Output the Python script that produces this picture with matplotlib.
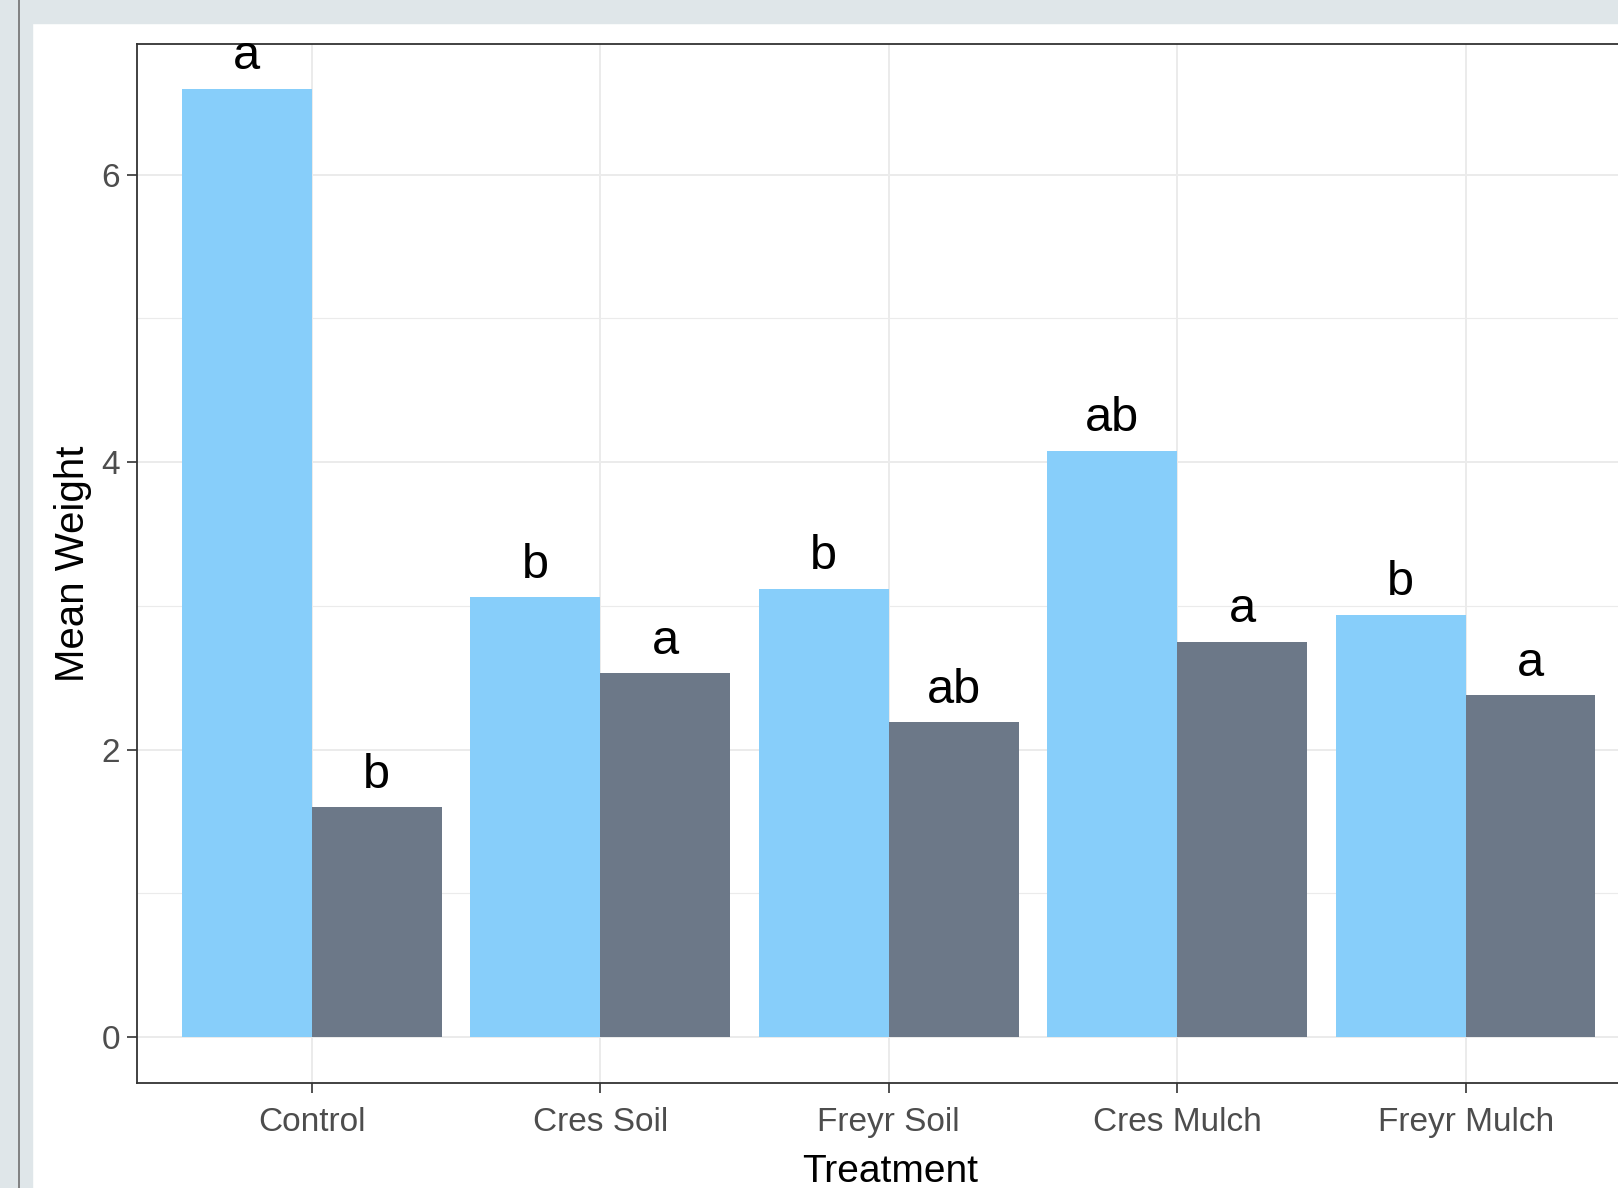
import matplotlib.pyplot as plt
import matplotlib.patches as patches
import numpy as np

# data
treatments = ['Control', 'Cres Soil', 'Freyr Soil', 'Cres Mulch', 'Freyr Mulch']
weight_light = [6.60, 3.06, 3.12, 4.08, 2.94]
weight_dark = [1.60, 2.53, 2.19, 2.75, 2.38]
letters_light = ['a', 'b', 'b', 'ab', 'b']
letters_dark = ['b', 'a', 'ab', 'a', 'a']
y_ticks = [0, 2, 4, 6]

plt.rcParams['font.family'] = ['Liberation Sans', 'DejaVu Sans']

W, H = 1618, 1188
fig = plt.figure(figsize=(W / 100, H / 100), dpi=100, facecolor='white')

# screenshot frame around the plot
band = '#dfe6e9'
fig.add_artist(patches.Rectangle((0, 0), 32 / W, 1, transform=fig.transFigure, color=band, zorder=0))
fig.add_artist(patches.Rectangle((0, 1 - 23 / H), 1, 23 / H, transform=fig.transFigure, color=band, zorder=0))
fig.add_artist(plt.Line2D([18.5 / W, 18.5 / W], [0, 1], transform=fig.transFigure, color='#707070', lw=1.2))

# axes (right side cut off like the screenshot)
ax = fig.add_axes([137 / W, 105 / H, 1500 / W, 1039 / H])
ax.set_facecolor('white')

x = np.arange(1, len(treatments) + 1)
w = 0.45
ax.bar(x - w / 2, weight_light, width=w, color='#87cefa', zorder=2)
ax.bar(x + w / 2, weight_dark, width=w, color='#6c7888', zorder=2)

for xi, v, t in zip(x - w / 2, weight_light, letters_light):
    ax.annotate(t, (xi, v), xytext=(0, 14), textcoords='offset points',
                ha='center', va='baseline', fontsize=35, color='black', clip_on=False)
for xi, v, t in zip(x + w / 2, weight_dark, letters_dark):
    ax.annotate(t, (xi, v), xytext=(0, 14), textcoords='offset points',
                ha='center', va='baseline', fontsize=35, color='black', clip_on=False)

ax.set_xlim(0.394, 5.594)
ax.set_ylim(-0.32, 6.91)
ax.set_xticks(x)
ax.set_xticklabels(treatments)
ax.set_yticks(y_ticks)
ax.set_yticks([1, 3, 5], minor=True)

# theme_bw style grid
ax.grid(True, which='major', color='#ebebeb', lw=1.4, zorder=0)
ax.grid(True, which='minor', axis='y', color='#ebebeb', lw=0.8, zorder=0)
ax.set_axisbelow(True)
for s in ax.spines.values():
    s.set_color('#333333')
    s.set_linewidth(1.3)

ax.tick_params(axis='both', which='major', length=7, width=1.2, color='#333333',
               labelsize=24, labelcolor='#4d4d4d')
ax.tick_params(axis='x', pad=10)
ax.tick_params(axis='y', pad=5)
ax.tick_params(which='minor', length=0)

ax.set_xlabel('Treatment', fontsize=28, color='black')
ax.set_ylabel('Mean Weight', fontsize=29, color='black')
ax.xaxis.set_label_coords(0.502, -0.068)
ax.yaxis.set_label_coords(-0.03, 0.5)

plt.savefig('out.png', dpi=100, facecolor=fig.get_facecolor())
